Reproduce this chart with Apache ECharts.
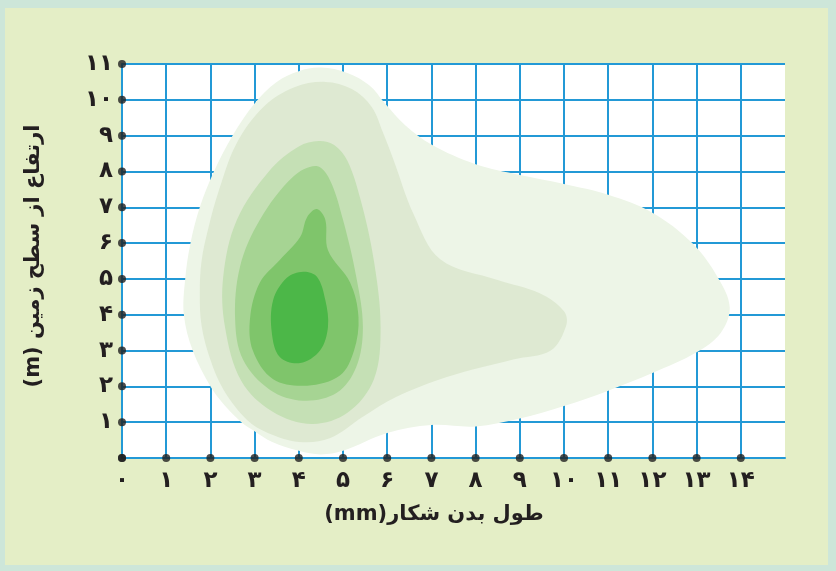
<!DOCTYPE html>
<html><head><meta charset="utf-8">
<script src="https://cdn.jsdelivr.net/npm/echarts@6/dist/echarts.min.js"></script>
<style>html,body{margin:0;padding:0;background:#cde6d9;} #c{width:836px;height:571px;}</style>
</head><body><div id="c"></div>
<script>
// Tick values and labels (Persian digits)
const xTickValues = [0,1,2,3,4,5,6,7,8,9,10,11,12,13,14];
const xTickLabels = ['۰','۱','۲','۳','۴','۵','۶','۷','۸','۹','۱۰','۱۱','۱۲','۱۳','۱۴'];
const yTickValues = [0,1,2,3,4,5,6,7,8,9,10,11];
const yTickLabels = ['','۱','۲','۳','۴','۵','۶','۷','۸','۹','۱۰','۱۱'];
const xTitle = '(mm)طول بدن شکار';
const yTitle = '(m) ارتفاع از سطح زمین';

// Density contour levels (x = body length mm, y = height m), outer -> inner
const level1 = [[4.5,10.9],[5.1,10.75],[5.6,10.4],[5.95,9.9],[6.4,9.3],[7.0,8.75],[8.0,8.2],[9.0,7.9],[10.0,7.65],[11.0,7.35],[12.0,6.85],[12.9,6.0],[13.5,5.0],[13.75,4.2],[13.55,3.5],[13.0,2.95],[12.0,2.37],[11.0,1.88],[10.0,1.45],[9.0,1.1],[8.0,0.88],[7.0,0.92],[6.0,0.7],[5.0,0.2],[4.5,0.1],[4.0,0.2],[3.4,0.45],[3.0,0.75],[2.7,1.0],[2.3,1.5],[2.0,2.0],[1.6,3.0],[1.4,4.0],[1.43,5.0],[1.55,6.0],[1.76,7.0],[2.08,8.0],[2.5,9.0],[3.0,9.9],[3.5,10.5],[4.0,10.8]];
const level2 = [[4.6,10.5],[5.2,10.3],[5.65,9.8],[5.9,9.1],[6.15,8.3],[6.6,6.8],[7.2,5.55],[8.5,4.97],[9.45,4.6],[10.0,4.1],[10.05,3.7],[9.7,3.0],[8.85,2.75],[7.35,2.26],[6.2,1.7],[5.45,1.15],[4.7,0.55],[4.0,0.45],[3.3,0.7],[2.83,1.06],[2.3,1.9],[2.0,2.74],[1.8,3.7],[1.76,4.6],[1.8,5.5],[1.95,6.4],[2.2,7.5],[2.6,8.8],[3.2,9.8],[3.9,10.35]];
const level3 = [[4.45,8.85],[4.8,8.74],[5.1,8.3],[5.4,7.2],[5.7,5.5],[5.85,3.66],[5.7,2.2],[5.1,1.26],[4.3,0.95],[3.4,1.3],[2.7,2.15],[2.33,3.66],[2.29,5.06],[2.6,6.65],[3.35,8.04],[4.0,8.7]];
const level4 = [[4.4,8.15],[4.7,7.77],[5.0,6.65],[5.3,5.06],[5.45,3.66],[5.3,2.54],[4.86,1.82],[4.1,1.6],[3.35,1.9],[2.74,2.74],[2.56,3.85],[2.67,5.34],[3.12,6.65],[3.87,7.85]];
const level5 = [[4.41,6.95],[4.6,6.65],[4.66,5.8],[5.16,4.9],[5.35,3.94],[5.25,3.0],[4.93,2.3],[4.19,2.02],[3.42,2.2],[2.96,3.0],[2.9,3.94],[3.12,4.9],[3.57,5.53],[4.03,6.17],[4.19,6.73]];
const level6 = [[4.1,5.2],[4.41,5.06],[4.6,4.41],[4.66,3.66],[4.48,3.0],[4.03,2.65],[3.57,2.82],[3.39,3.49],[3.42,4.41],[3.73,5.03]];

const levels = [level1, level2, level3, level4, level5, level6];
const levelColors = ['#edf5e7','#dee9d2','#c5e0b5','#a6d493','#7fc56b','#4cb748'];

const gridBlue = '#2399d6';
const chart = echarts.init(document.getElementById('c'), null, {renderer:'canvas'});

function polySeries(pts, color, z){
  return {
    type:'custom', coordinateSystem:'cartesian2d', data: pts, encode:{x:0,y:1},
    silent:true, z:z, animation:false,
    renderItem: function(params, api){
      if (params.dataIndex !== 0) return null;
      const points = pts.map(p => api.coord(p));
      return {type:'polygon', shape:{points:points, smooth:0.35}, style:{fill:color}};
    }
  };
}

const series = levels.map((pts,i) => polySeries(pts, levelColors[i], 2+i));
series.push({
  type:'scatter', silent:true, animation:false, z:20, clip:false,
  symbolSize:8, itemStyle:{color:'#1f1f1f'},
  data: xTickValues.map(v => [v,0]).concat(yTickValues.map(v => [0,v]))
});

chart.setOption({
  backgroundColor:'#cde6d9',
  animation:false,
  graphic:[
    {type:'rect', z:-10, silent:true, shape:{x:5,y:8,width:823,height:557}, style:{fill:'#e4eec6'}},
    {type:'text', silent:true, x:34, y:256, rotation:Math.PI/2,
      style:{text:yTitle, fontFamily:'DejaVu Sans', fontWeight:'bold', fontSize:21, fill:'#231f20', textAlign:'center', textVerticalAlign:'middle'}},
    {type:'text', silent:true, x:434, y:515,
      style:{text:xTitle, fontFamily:'DejaVu Sans', fontWeight:'bold', fontSize:21, fill:'#231f20', textAlign:'center', textVerticalAlign:'middle'}}
  ],
  grid:{left:122, right:51, top:64, bottom:113, show:true, backgroundColor:'#ffffff', borderWidth:0},
  xAxis:{
    type:'value', min:0, max:15, interval:1,
    axisLine:{show:true, lineStyle:{color:gridBlue, width:2}},
    axisTick:{show:false},
    splitLine:{show:true, showMaxLine:false, lineStyle:{color:gridBlue, width:2}},
    axisLabel:{formatter: v => xTickLabels[v] || '', fontFamily:'DejaVu Sans', fontWeight:'bold', fontSize:23, color:'#231f20', margin:12, showMaxLabel:false}
  },
  yAxis:{
    type:'value', min:0, max:11, interval:1,
    axisLine:{show:true, lineStyle:{color:gridBlue, width:2}},
    axisTick:{show:false},
    splitLine:{show:true, lineStyle:{color:gridBlue, width:2}},
    axisLabel:{formatter: v => yTickLabels[v] || '', fontFamily:'DejaVu Sans', fontWeight:'bold', fontSize:23, color:'#231f20', margin:9}
  },
  series: series
});
</script></body></html>
